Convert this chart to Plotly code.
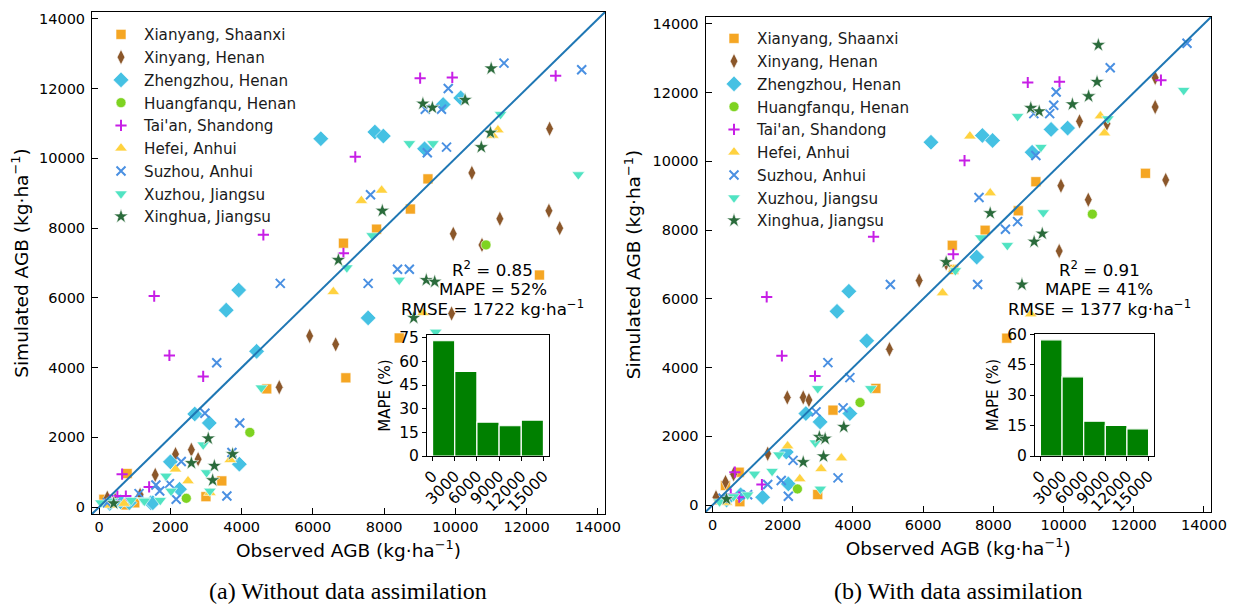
import plotly.graph_objects as go

PAGE_W, PAGE_H = 1243, 606
BODY = 8  # default page margin of the html body
W, H = PAGE_W - BODY, PAGE_H - BODY

SITES = ["Xianyang, Shaanxi", "Xinyang, Henan", "Zhengzhou, Henan", "Huangfanqu, Henan",
         "Tai'an, Shandong", "Hefei, Anhui", "Suzhou, Anhui", "Xuzhou, Jiangsu", "Xinghua, Jiangsu"]
COLORS = ["#F5A623", "#8B572A", "#45C1E3", "#7ED321", "#C71EE6", "#FFD23F", "#4A90E2", "#50E3C2", "#2A6B3B"]
SYMBOLS = ["square", "diamond-tall", "diamond", "circle", "cross-thin", "triangle-up", "x-thin", "triangle-down", "star"]
SIZES = [10, 11, 12, 10, 8, 11, 9, 11, 11]

# ---------- panel (a): without data assimilation ----------
A_OBS = [
    [9230, 8737, 7788, 6858, 12360, 8424, 6925, 4705, 3444, 2998, 787, 133, 750, 450, 1000],
    [12645, 10463, 12626, 11249, 12929, 9941, 10747, 9894, 5910, 6640, 5056, 2590, 2144, 2779, 1575, 230, 450, 1150],
    [6223, 7741, 7978, 9657, 10150, 9135, 3918, 3567, 4420, 7551, 2684, 3092, 2001, 3936, 2257, 1451, 845, 1508, 600, 300],
    [10860, 4231, 2447],
    [9011, 9913, 12815, 7190, 4610, 6858, 1546, 1973, 2921, 645, 1404, 512, 750, 300],
    [11194, 11051, 7930, 7361, 6574, 9088, 3680, 2144, 2495, 3110, 300, 700],
    [11364, 13546, 9800, 9155, 9610, 9212, 9752, 7618, 8376, 8708, 5085, 7551, 3301, 2969, 3947, 3728,
     2305, 1594, 1973, 2163, 3586, 1120, 228, 1700],
    [8708, 9371, 11269, 13451, 6953, 8424, 7664, 9448, 4553, 2921, 3016, 3110, 1878, 2020, 1716, 1240, 900, 370, 50, 1270],
    [11005, 10273, 9088, 9354, 10985, 10728, 7949, 6716, 9184, 9420, 8831, 3064, 3747, 2590, 3235, 3187, 408],
]
A_SIM = [
    [9413, 8548, 7971, 7568, 6655, 4849, 3706, 3389, 749, 297, 960, 222, 60, 150, 120],
    [10853, 9585, 8499, 8269, 8000, 7836, 7519, 5551, 4907, 4667, 3438, 1642, 1518, 1374, 922, 266, 200, 350],
    [10565, 10757, 10641, 11546, 11736, 10276, 6223, 5647, 4466, 5425, 2670, 2411, 1296, 1229, 510, 124, 124, 124, 150, 100],
    [7519, 2141, 250],
    [12302, 12322, 12369, 10046, 7807, 7280, 6050, 4350, 3745, 941, 576, 317, 317, 200],
    [10815, 10660, 9084, 8787, 6174, 5570, 1354, 1086, 749, 413, 50, 100],
    [12734, 12542, 12004, 11409, 11409, 10161, 10324, 8960, 6819, 6819, 6416, 6416, 4140, 2689, 2411, 1564,
     1306, 634, 672, 221, 317, 384, 124, 461],
    [10429, 10429, 11265, 9536, 6866, 6511, 7788, 5022, 3420, 1786, 989, 461, 893, 461, 193, 193, 193, 173, 124, 173],
    [12581, 11677, 11572, 11457, 10737, 10324, 8499, 7087, 6511, 6463, 5425, 1967, 1518, 1262, 1181, 769, 107],
]

# ---------- panel (b): with data assimilation ----------
B_OBS = [
    [12333, 9211, 8710, 7766, 6830, 6870, 8382, 4653, 3431, 2997, 760, 367, 780, 200],
    [12610, 12610, 12910, 10454, 11234, 9925, 10704, 9876, 5887, 6656, 5040, 2130, 2584, 2746, 1572, 100, 370, 600],
    [6223, 7688, 7977, 9645, 10116, 9104, 7526, 3884, 3546, 4393, 2659, 3064, 3913, 2101, 2159, 1428, 800, 400],
    [10820, 4202, 2419],
    [8980, 9884, 12774, 7179, 4587, 6858, 1543, 1976, 2919, 636, 1407, 760, 520],
    [11049, 11165, 7332, 7910, 6552, 6870, 9064, 3671, 3093, 2486, 2139, 400],
    [13517, 11329, 9789, 9720, 9153, 9604, 9211, 7592, 8344, 8690, 5066, 7552, 3286, 3913, 2948, 3720,
     2294, 3575, 1572, 1957, 2159, 300, 1000],
    [13422, 11263, 8690, 9355, 9422, 8398, 7640, 6918, 4509, 2997, 2928, 1890, 1194, 1697, 3072, 1000, 600, 200],
    [10991, 10954, 10714, 10252, 9067, 9306, 7910, 9393, 9162, 6656, 8815, 3740, 3043, 3208, 2584, 3162, 396],
]
B_SIM = [
    [9652, 9409, 8561, 7997, 7558, 6857, 4857, 3395, 2763, 307, 959, 570, 100, 150],
    [12430, 11582, 9459, 11164, 11096, 9292, 8883, 7392, 6535, 7032, 4535, 3132, 3132, 3056, 1494, 230, 670, 900],
    [10558, 10754, 10608, 10930, 10968, 10266, 7216, 6222, 5637, 4780, 2664, 2421, 2664, 1544, 617, 228, 300, 150],
    [8465, 2985, 471],
    [12295, 12313, 12362, 10023, 7810, 7295, 6056, 4342, 3757, 959, 599, 230, 320],
    [11319, 10822, 10734, 9079, 6173, 6860, 5558, 1368, 1056, 763, 1719, 80],
    [13436, 12722, 12020, 11632, 11389, 11389, 10170, 8950, 8026, 8248, 6418, 6418, 4146, 3708, 2713, 2830,
     1301, 792, 599, 716, 257, 200, 300],
    [12070, 11243, 11310, 10412, 8512, 7558, 7781, 6827, 3395, 3395, 1816, 1465, 909, 988, 471, 300, 250, 100],
    [13386, 12313, 11895, 11661, 11553, 11456, 8494, 7898, 7664, 7070, 6418, 2275, 1982, 1933, 1251, 1418, 178],
]

STATS_A = ["R<sup>2</sup> = 0.85", "MAPE = 52%", "RMSE = 1722 kg·ha<sup>−1</sup>"]
STATS_B = ["R<sup>2</sup> = 0.91", "MAPE = 41%", "RMSE = 1377 kg·ha<sup>−1</sup>"]

BIN_LEFT = [0, 3000, 6000, 9000, 12000]
BIN_WIDTH = 3000
MAPE_A = [73.1, 53.6, 21.5, 19.2, 22.8]
MAPE_B = [57.2, 39.0, 17.1, 15.1, 13.4]
HIST_TICKS = [0, 3000, 6000, 9000, 12000, 15000]

AX_MIN, AX_MAX = -200, 14200
MAIN_TICKS = [0, 2000, 4000, 6000, 8000, 10000, 12000, 14000]
CAPTIONS = ["(a) Without data assimilation", "(b) With data assimilation"]

FONT = "DejaVu Sans"

fig = go.Figure()


def px_x(p):
    return (p - BODY) / W


def px_y(p):
    return 1 - (p - BODY) / H


def add_panel(obs, sim, xa, ya, legend):
    for i, name in enumerate(SITES):
        line_sym = SYMBOLS[i] in ("cross-thin", "x-thin")
        marker = dict(symbol=SYMBOLS[i], size=SIZES[i], color=COLORS[i],
                      line=dict(color=COLORS[i] if line_sym else "white", width=2 if line_sym else 0.6))
        fig.add_trace(go.Scatter(x=obs[i], y=sim[i], mode="markers", name=name, marker=marker,
                                 xaxis=xa, yaxis=ya, legend=legend))
    fig.add_trace(go.Scatter(x=[AX_MIN, AX_MAX], y=[AX_MIN, AX_MAX], mode="lines",
                             line=dict(color="#1f77b4", width=2), showlegend=False,
                             xaxis=xa, yaxis=ya))


add_panel(A_OBS, A_SIM, "x", "y", "legend")
add_panel(B_OBS, B_SIM, "x2", "y2", "legend2")

for vals, xa, ya in [(MAPE_A, "x3", "y3"), (MAPE_B, "x4", "y4")]:
    fig.add_trace(go.Bar(x=BIN_LEFT, y=vals, width=BIN_WIDTH, offset=0,
                         marker=dict(color="#008000", line=dict(color="white", width=1.2)),
                         showlegend=False, xaxis=xa, yaxis=ya))

main_ax = dict(range=[AX_MIN, AX_MAX], tickvals=MAIN_TICKS, tickformat="d", ticks="inside", ticklen=6,
               tickwidth=1, tickcolor="black", showline=True, linecolor="black", linewidth=1, mirror=True,
               showgrid=False, zeroline=False, automargin=False,
               tickfont=dict(size=14.5, color="black", family=FONT),
               title_font=dict(size=18.5, color="black", family=FONT))

AXT = "AGB (kg·ha<sup>−1</sup>)"
fig.update_layout(
    xaxis=dict(main_ax, domain=[px_x(92), px_x(605)], anchor="y",
               title=dict(text="Observed " + AXT, standoff=9)),
    yaxis=dict(main_ax, domain=[px_y(514), px_y(12)], anchor="x", ticklabelstandoff=3,
               title=dict(text="Simulated " + AXT, standoff=6)),
    xaxis2=dict(main_ax, domain=[px_x(705.5), px_x(1211)], anchor="y2",
                title=dict(text="Observed " + AXT, standoff=9)),
    yaxis2=dict(main_ax, domain=[px_y(512), px_y(17)], anchor="x2", ticklabelstandoff=3,
                title=dict(text="Simulated " + AXT, standoff=6)),
)

inset_ax = dict(ticks="outside", ticklen=4, tickcolor="black", showline=True, linecolor="black",
                linewidth=1, mirror=True, showgrid=False, zeroline=False, automargin=False,
                tickformat="d", tickfont=dict(size=15.5, color="black", family=FONT))
inset_title = dict(size=15, color="black", family=FONT)
fig.update_layout(
    xaxis3=dict(inset_ax, domain=[px_x(427), px_x(549)], anchor="y3", range=[-750, 15750],
                tickvals=HIST_TICKS, tickangle=-45),
    yaxis3=dict(inset_ax, domain=[px_y(456), px_y(335)], anchor="x3", range=[0, max(MAPE_A) * 1.05],
                tickvals=[0, 15, 30, 45, 60, 75],
                title=dict(text="MAPE (%)", font=inset_title, standoff=4)),
    xaxis4=dict(inset_ax, domain=[px_x(1035), px_x(1154)], anchor="y4", range=[-750, 15750],
                tickvals=HIST_TICKS, tickangle=-45),
    yaxis4=dict(inset_ax, domain=[px_y(456), px_y(334)], anchor="x4", range=[0, max(MAPE_B) * 1.05],
                tickvals=[0, 15, 30, 45, 60],
                title=dict(text="MAPE (%)", font=inset_title, standoff=4)),
)

leg = dict(xanchor="left", yanchor="top", bgcolor="rgba(0,0,0,0)", borderwidth=0, itemwidth=36,
           font=dict(size=15.2, color="#1a1a1a", family=FONT), itemclick=False)
fig.update_layout(
    legend=dict(leg, x=px_x(98), y=px_y(18)),
    legend2=dict(leg, x=px_x(711), y=px_y(22)),
)

anns = []
for lines, cx in [(STATS_A, 492.5), (STATS_B, 1099)]:
    for txt, cy in zip(lines, [269, 289, 308]):
        anns.append(dict(text=txt, x=px_x(cx), y=px_y(cy), xref="paper", yref="paper",
                         xanchor="center", yanchor="middle", showarrow=False,
                         font=dict(size=16.7, color="black", family=FONT)))
for txt, cx in zip(CAPTIONS, [348, 958]):
    anns.append(dict(text=txt, x=px_x(cx), y=px_y(591), xref="paper", yref="paper",
                     xanchor="center", yanchor="middle", showarrow=False,
                     font=dict(size=24, color="black", family="Liberation Serif")))
fig.update_layout(annotations=anns)

fig.update_layout(template="none", width=W, height=H, margin=dict(l=0, r=0, t=0, b=0, autoexpand=False),
                  paper_bgcolor="white", plot_bgcolor="white",
                  font=dict(family=FONT, color="black"))

fig.write_html("out.html")
